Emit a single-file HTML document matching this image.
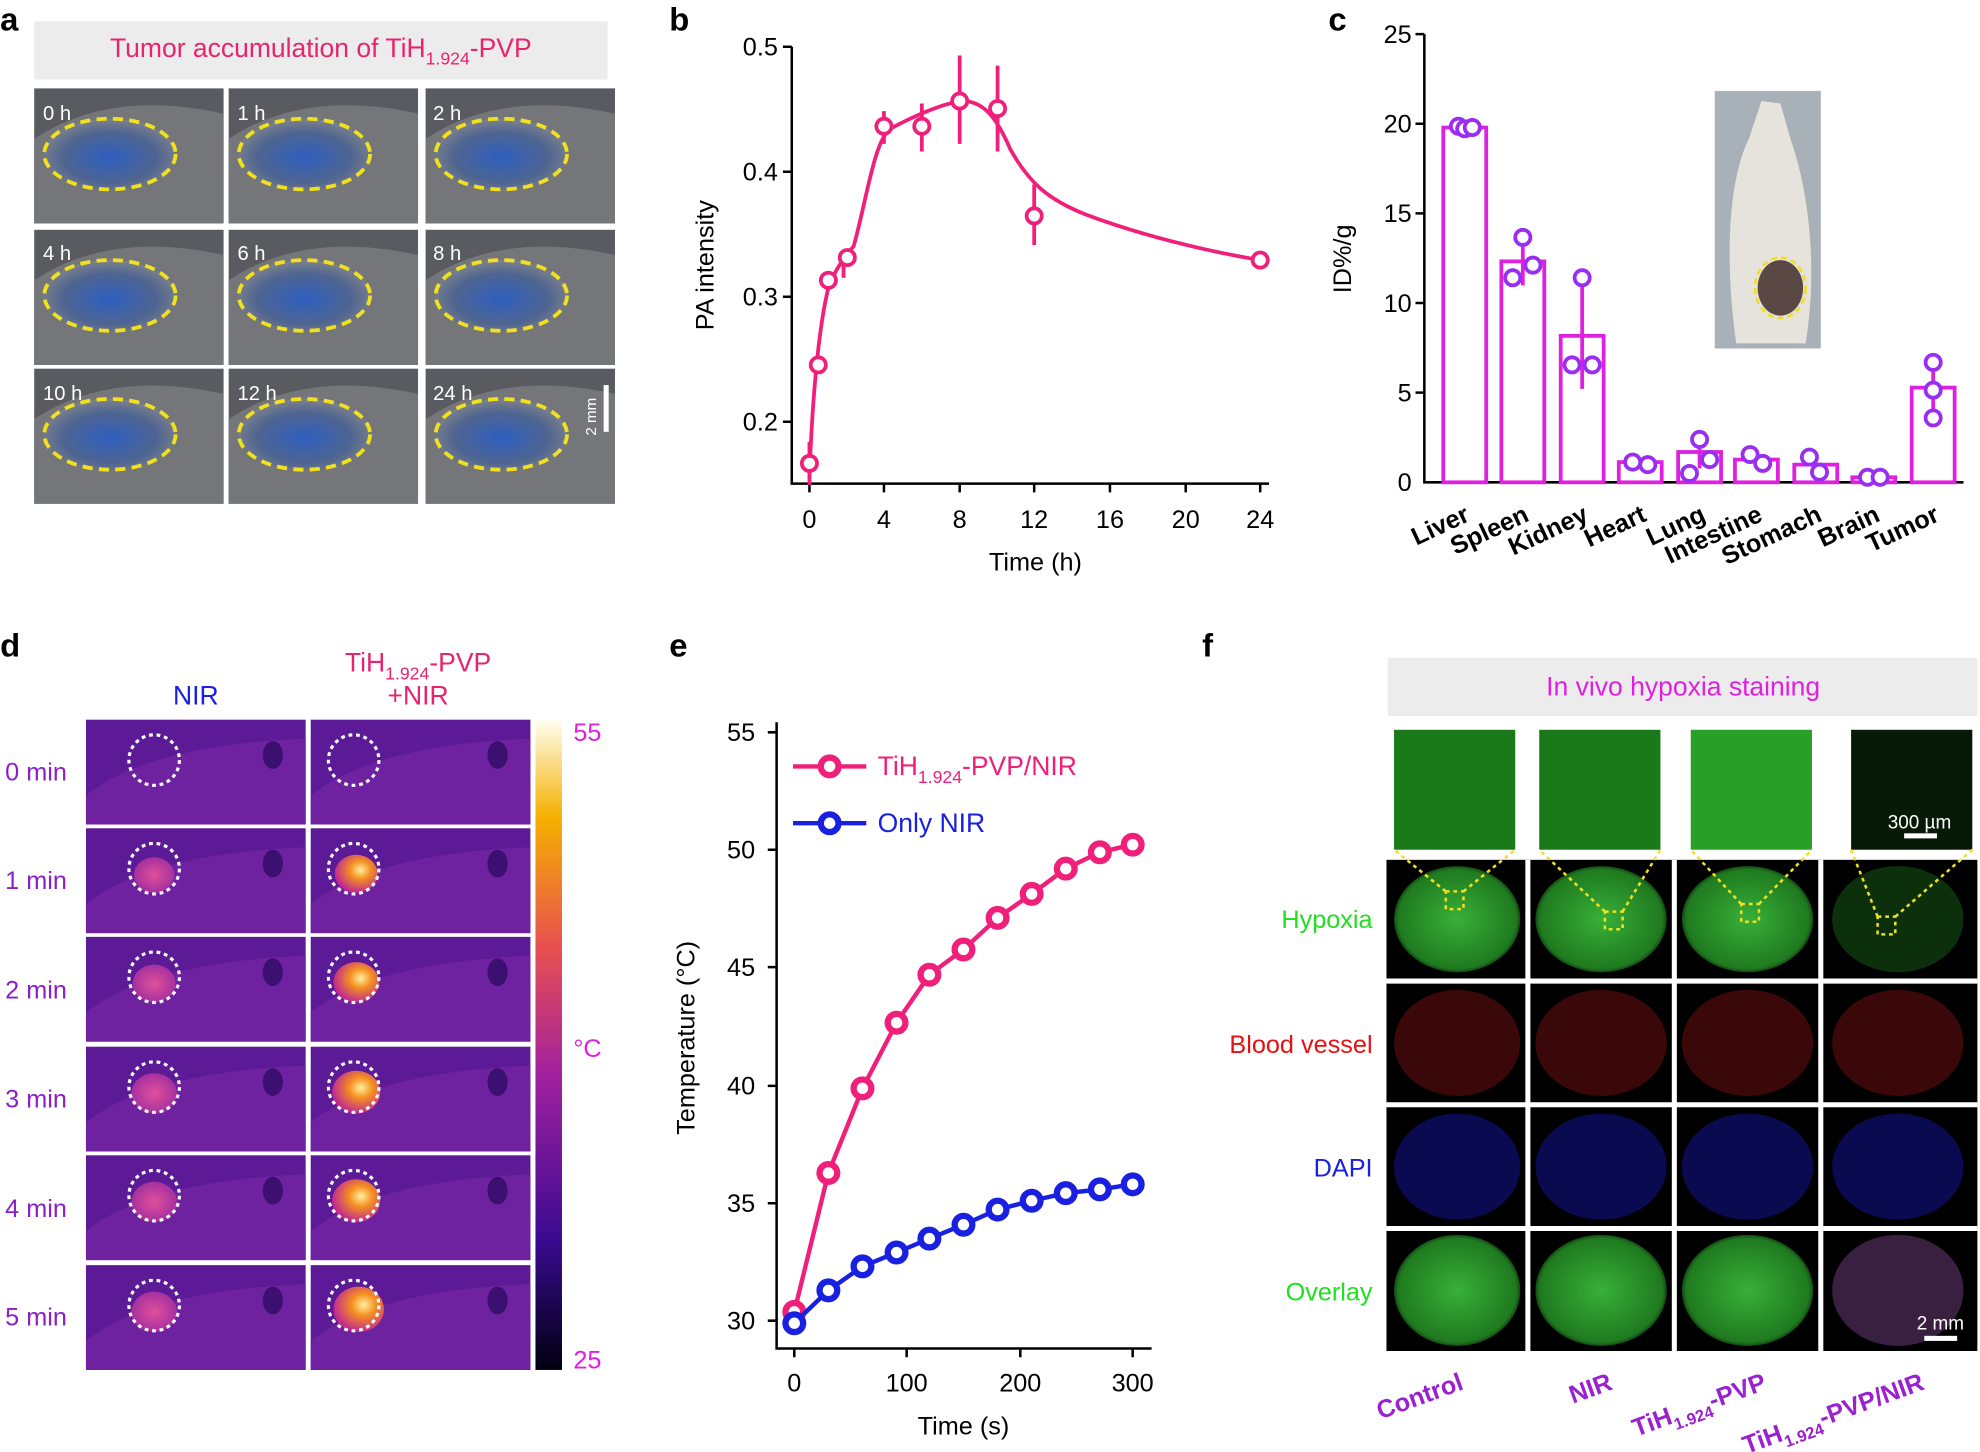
<!DOCTYPE html>
<html><head><meta charset="utf-8"><style>html,body{margin:0;padding:0;background:#fff}svg{display:block}text{font-family:"Liberation Sans",sans-serif}</style></head>
<body>
<svg width="1980" height="1452" viewBox="0 0 1568 1150" xmlns="http://www.w3.org/2000/svg">
<defs>
<radialGradient id="us" cx="50%" cy="55%" r="60%"><stop offset="0" stop-color="#2f5fc0"/><stop offset="0.6" stop-color="#4f6590"/><stop offset="1" stop-color="#8a8a8c"/></radialGradient>
<radialGradient id="hot" cx="60%" cy="40%" r="60%"><stop offset="0" stop-color="#fff0a0"/><stop offset="0.4" stop-color="#f59020"/><stop offset="1" stop-color="#c02a90"/></radialGradient>
<radialGradient id="warm" cx="50%" cy="50%" r="60%"><stop offset="0" stop-color="#e0509a"/><stop offset="1" stop-color="#9a2aa0"/></radialGradient>
<linearGradient id="cb" x1="0" y1="1" x2="0" y2="0"><stop offset="0" stop-color="#000010"/><stop offset="0.2" stop-color="#3a0a90"/><stop offset="0.45" stop-color="#a020a0"/><stop offset="0.65" stop-color="#e85050"/><stop offset="0.85" stop-color="#f5b000"/><stop offset="1" stop-color="#fffff0"/></linearGradient>
<radialGradient id="grn" cx="50%" cy="50%" r="55%"><stop offset="0" stop-color="#38b038"/><stop offset="0.85" stop-color="#1f7a1f"/><stop offset="1" stop-color="#000"/></radialGradient>
<g id="ua"><rect width="150" height="107" fill="#5a5b60"/><path d="M0 40 Q60 0 150 20 L150 107 L0 107Z" fill="#75767a"/><ellipse cx="60" cy="52" rx="52" ry="28" fill="url(#us)"/><ellipse cx="60" cy="52" rx="52" ry="28" fill="none" stroke="#f0e020" stroke-width="3" stroke-dasharray="8,5"/></g>
<g id="dl"><rect width="174" height="83" fill="#5c1a96"/><path d="M0 60 Q50 20 174 15 L174 83 L0 83Z" fill="#6e22a0"/><ellipse cx="148" cy="28" rx="8" ry="11" fill="#3c1070"/></g>
</defs>
<g font-size="26" font-weight="bold">
<text x="0" y="24">a</text><text x="530" y="24">b</text><text x="1052" y="24">c</text>
<text x="0" y="520">d</text><text x="530" y="520">e</text><text x="952" y="520">f</text></g>

<!-- panel a -->
<rect x="27" y="17" width="454" height="46" fill="#ececec"/>
<text x="254" y="45" font-size="21" fill="#e8246e" text-anchor="middle">Tumor accumulation of TiH<tspan font-size="14" dy="6">1.924</tspan><tspan dy="-6">-PVP</tspan></text>
<use href="#ua" x="27" y="70"/><use href="#ua" x="181" y="70"/><use href="#ua" x="337" y="70"/>
<use href="#ua" x="27" y="182"/><use href="#ua" x="181" y="182"/><use href="#ua" x="337" y="182"/>
<use href="#ua" x="27" y="292"/><use href="#ua" x="181" y="292"/><use href="#ua" x="337" y="292"/>
<g font-size="16" fill="#fff"><text x="34" y="95">0 h</text><text x="188" y="95">1 h</text><text x="343" y="95">2 h</text><text x="34" y="206">4 h</text><text x="188" y="206">6 h</text><text x="343" y="206">8 h</text><text x="34" y="317">10 h</text><text x="188" y="317">12 h</text><text x="343" y="317">24 h</text></g>
<rect x="478" y="305" width="4" height="37" fill="#fff"/>
<text x="472" y="330" font-size="12" fill="#fff" transform="rotate(-90 472 330)" text-anchor="middle">2 mm</text>

<!-- panel b -->
<g stroke="#000" stroke-width="2" fill="none"><path d="M627 37 V383 H1005"/>
<path d="M627 37h-7M627 136h-7M627 235h-7M627 334h-7M641 383v7M700 383v7M760 383v7M819 383v7M879 383v7M939 383v7M998 383v7"/></g>
<g font-size="20" text-anchor="end"><text x="616" y="44">0.5</text><text x="616" y="143">0.4</text><text x="616" y="242">0.3</text><text x="616" y="341">0.2</text></g>
<g font-size="20" text-anchor="middle"><text x="641" y="418">0</text><text x="700" y="418">4</text><text x="760" y="418">8</text><text x="819" y="418">12</text><text x="879" y="418">16</text><text x="939" y="418">20</text><text x="998" y="418">24</text><text x="820" y="452">Time (h)</text></g>
<text x="565" y="210" font-size="20" text-anchor="middle" transform="rotate(-90 565 210)">PA intensity</text>
<g stroke="#f0207a" stroke-width="3" fill="none">
<path d="M641 378 C643 320 648 260 656 228 C662 212 668 205 676 195 C686 160 692 112 705 102 C720 94 745 82 762 80 C780 80 790 95 800 118 C815 145 830 158 860 170 C900 185 950 198 998 206"/>
<path d="M641 350v34M700 88v26M730 82v38M760 44v70M790 52v68M819 146v48M998 199v14M668 200v20"/>
<g fill="#fff"><circle cx="641" cy="367" r="6"/><circle cx="648" cy="289" r="6"/><circle cx="656" cy="222" r="6"/><circle cx="671" cy="204" r="6"/><circle cx="700" cy="100" r="6"/><circle cx="730" cy="100" r="6"/><circle cx="760" cy="80" r="6"/><circle cx="790" cy="86" r="6"/><circle cx="819" cy="171" r="6"/><circle cx="998" cy="206" r="6"/></g></g>

<!-- panel c -->
<g stroke="#000" stroke-width="2" fill="none"><path d="M1128 27 V382 H1555"/>
<path d="M1128 27h-7M1128 98h-7M1128 169h-7M1128 240h-7M1128 311h-7"/></g>
<g font-size="20" text-anchor="end"><text x="1118" y="34">25</text><text x="1118" y="105">20</text><text x="1118" y="176">15</text><text x="1118" y="247">10</text><text x="1118" y="318">5</text><text x="1118" y="389">0</text></g>
<text x="1070" y="205" font-size="20" text-anchor="middle" transform="rotate(-90 1070 205)">ID%/g</text>
<g stroke="#e020e0" stroke-width="3" fill="none">
<rect x="1143" y="101" width="34" height="281"/><rect x="1189" y="207" width="34" height="175"/><rect x="1236" y="266" width="34" height="116"/><rect x="1282" y="366" width="34" height="16"/><rect x="1329" y="358" width="34" height="24"/><rect x="1374" y="364" width="34" height="18"/><rect x="1421" y="368" width="34" height="14"/><rect x="1467" y="378" width="34" height="4"/><rect x="1514" y="307" width="34" height="75"/>
<path d="M1206 190v36M1253 222v86M1346 345v26M1531 285v52"/></g>
<g stroke="#9a2ef0" stroke-width="3" fill="#fff">
<circle cx="1155" cy="100" r="6"/><circle cx="1160" cy="102" r="6"/><circle cx="1166" cy="101" r="6"/>
<circle cx="1206" cy="188" r="6"/><circle cx="1198" cy="220" r="6"/><circle cx="1214" cy="210" r="6"/>
<circle cx="1253" cy="220" r="6"/><circle cx="1245" cy="289" r="6"/><circle cx="1261" cy="289" r="6"/>
<circle cx="1293" cy="366" r="6"/><circle cx="1305" cy="368" r="6"/><circle cx="1346" cy="348" r="6"/><circle cx="1338" cy="375" r="6"/><circle cx="1354" cy="364" r="6"/>
<circle cx="1386" cy="360" r="6"/><circle cx="1396" cy="367" r="6"/><circle cx="1433" cy="362" r="6"/><circle cx="1441" cy="374" r="6"/>
<circle cx="1479" cy="378" r="6"/><circle cx="1489" cy="378" r="6"/><circle cx="1531" cy="287" r="6"/><circle cx="1531" cy="309" r="6"/><circle cx="1531" cy="331" r="6"/></g>
<g font-size="20" font-weight="bold" text-anchor="end">
<text x="1165" y="412" transform="rotate(-25 1165 412)">Liver</text><text x="1212" y="412" transform="rotate(-25 1212 412)">Spleen</text><text x="1259" y="412" transform="rotate(-25 1259 412)">Kidney</text><text x="1305" y="412" transform="rotate(-25 1305 412)">Heart</text><text x="1352" y="412" transform="rotate(-25 1352 412)">Lung</text><text x="1397" y="412" transform="rotate(-25 1397 412)">Intestine</text><text x="1444" y="412" transform="rotate(-25 1444 412)">Stomach</text><text x="1490" y="412" transform="rotate(-25 1490 412)">Brain</text><text x="1537" y="412" transform="rotate(-25 1537 412)">Tumor</text></g>
<rect x="1358" y="72" width="84" height="204" fill="#a8b0b8"/>
<path d="M1375 272 C1365 200 1370 140 1385 110 L1395 80 L1410 82 L1418 110 C1432 150 1440 210 1430 272Z" fill="#e6e2dc"/>
<ellipse cx="1410" cy="228" rx="18" ry="22" fill="#5a4844"/>
<ellipse cx="1410" cy="228" rx="20" ry="24" fill="none" stroke="#f0e020" stroke-width="2" stroke-dasharray="5,3"/>

<!-- panel d -->
<text x="155" y="558" font-size="21" fill="#1a20e0" text-anchor="middle">NIR</text>
<text x="331" y="532" font-size="21" fill="#e8246e" text-anchor="middle">TiH<tspan font-size="14" dy="6">1.924</tspan><tspan dy="-6">-PVP</tspan></text>
<text x="331" y="558" font-size="21" fill="#e8246e" text-anchor="middle">+NIR</text>
<g font-size="20" fill="#8a20c8">
<text x="4" y="618">0 min</text><text x="4" y="704">1 min</text><text x="4" y="791">2 min</text><text x="4" y="877">3 min</text><text x="4" y="964">4 min</text><text x="4" y="1050">5 min</text></g>
<use href="#dl" x="68" y="570"/><use href="#dl" x="246" y="570"/>
<use href="#dl" x="68" y="656"/><use href="#dl" x="246" y="656"/>
<use href="#dl" x="68" y="742"/><use href="#dl" x="246" y="742"/>
<use href="#dl" x="68" y="829"/><use href="#dl" x="246" y="829"/>
<use href="#dl" x="68" y="915"/><use href="#dl" x="246" y="915"/>
<use href="#dl" x="68" y="1002"/><use href="#dl" x="246" y="1002"/>
<g fill="url(#warm)"><ellipse cx="122" cy="693" rx="16" ry="14"/><ellipse cx="122" cy="779" rx="17" ry="15"/><ellipse cx="122" cy="866" rx="18" ry="16"/><ellipse cx="122" cy="952" rx="18" ry="16"/><ellipse cx="122" cy="1039" rx="18" ry="16"/></g>
<g fill="url(#hot)"><ellipse cx="282" cy="692" rx="17" ry="15"/><ellipse cx="282" cy="778" rx="18" ry="16"/><ellipse cx="282" cy="865" rx="19" ry="17"/><ellipse cx="282" cy="951" rx="19" ry="17"/><ellipse cx="284" cy="1037" rx="20" ry="18"/></g>
<g fill="none" stroke="#fff" stroke-width="2.5" stroke-dasharray="3,3">
<circle cx="122" cy="602" r="20"/><circle cx="280" cy="602" r="20"/><circle cx="122" cy="688" r="20"/><circle cx="280" cy="688" r="20"/><circle cx="122" cy="774" r="20"/><circle cx="280" cy="774" r="20"/><circle cx="122" cy="861" r="20"/><circle cx="280" cy="861" r="20"/><circle cx="122" cy="947" r="20"/><circle cx="280" cy="947" r="20"/><circle cx="122" cy="1034" r="20"/><circle cx="280" cy="1034" r="20"/></g>
<rect x="424" y="570" width="21" height="515" fill="url(#cb)"/>
<g font-size="20" fill="#e020e0"><text x="454" y="587">55</text><text x="454" y="837">°C</text><text x="454" y="1084">25</text></g>

<!-- panel e -->
<g stroke="#000" stroke-width="2" fill="none"><path d="M615 572 V1068 H912"/>
<path d="M615 580h-7M615 673h-7M615 766h-7M615 860h-7M615 953h-7M615 1046h-7M629 1068v7M718 1068v7M808 1068v7M897 1068v7"/></g>
<g font-size="20" text-anchor="end"><text x="598" y="587">55</text><text x="598" y="680">50</text><text x="598" y="773">45</text><text x="598" y="867">40</text><text x="598" y="960">35</text><text x="598" y="1053">30</text></g>
<g font-size="20" text-anchor="middle"><text x="629" y="1102">0</text><text x="718" y="1102">100</text><text x="808" y="1102">200</text><text x="897" y="1102">300</text><text x="763" y="1136">Time (s)</text></g>
<text x="550" y="822" font-size="20" text-anchor="middle" transform="rotate(-90 550 822)">Temperature (°C)</text>
<g stroke="#f0207a" stroke-width="3.5" fill="none"><polyline points="629,1039 656,929 683,862 710,810 736,772 763,752 790,727 817,708 844,688 871,675 897,669"/>
<path d="M628 607h58"/></g>
<g stroke="#f0207a" stroke-width="5" fill="#fff"><circle cx="629" cy="1039" r="7"/><circle cx="656" cy="929" r="7"/><circle cx="683" cy="862" r="7"/><circle cx="710" cy="810" r="7"/><circle cx="736" cy="772" r="7"/><circle cx="763" cy="752" r="7"/><circle cx="790" cy="727" r="7"/><circle cx="817" cy="708" r="7"/><circle cx="844" cy="688" r="7"/><circle cx="871" cy="675" r="7"/><circle cx="897" cy="669" r="7"/><circle cx="657" cy="607" r="7"/></g>
<g stroke="#1a20e0" stroke-width="3.5" fill="none"><polyline points="629,1048 656,1022 683,1003 710,992 736,981 763,970 790,958 817,951 844,945 871,942 897,938"/><path d="M628 652h58"/></g>
<g stroke="#1a20e0" stroke-width="5" fill="#fff"><circle cx="629" cy="1048" r="7"/><circle cx="656" cy="1022" r="7"/><circle cx="683" cy="1003" r="7"/><circle cx="710" cy="992" r="7"/><circle cx="736" cy="981" r="7"/><circle cx="763" cy="970" r="7"/><circle cx="790" cy="958" r="7"/><circle cx="817" cy="951" r="7"/><circle cx="844" cy="945" r="7"/><circle cx="871" cy="942" r="7"/><circle cx="897" cy="938" r="7"/><circle cx="657" cy="652" r="7"/></g>
<text x="695" y="614" font-size="21" fill="#f0207a">TiH<tspan font-size="14" dy="6">1.924</tspan><tspan dy="-6">-PVP/NIR</tspan></text>
<text x="695" y="659" font-size="21" fill="#1a20e0">Only NIR</text>

<!-- panel f -->
<rect x="1099" y="521" width="467" height="46" fill="#ececec"/>
<text x="1333" y="551" font-size="21" fill="#e020e0" text-anchor="middle">In vivo hypoxia staining</text>
<g fill="#1a7a1a"><rect x="1104" y="578" width="96" height="95"/><rect x="1219" y="578" width="96" height="95"/><rect x="1339" y="578" width="96" height="95" fill="#28a028"/><rect x="1466" y="578" width="96" height="95" fill="#071a07"/></g>
<rect x="1508" y="660" width="26" height="4" fill="#fff"/><text x="1495" y="656" font-size="15" fill="#fff">300 µm</text>
<rect x="1098" y="681" width="468" height="389" fill="#000"/>
<g stroke="#fff" stroke-width="4"><path d="M1210 681v389M1326 681v389M1442 681v389M1098 777h468M1098 875h468M1098 973h468"/></g>
<g fill="url(#grn)"><ellipse cx="1154" cy="728" rx="50" ry="42"/><ellipse cx="1268" cy="728" rx="52" ry="42"/><ellipse cx="1384" cy="728" rx="52" ry="42"/><ellipse cx="1154" cy="1022" rx="50" ry="44"/><ellipse cx="1268" cy="1022" rx="52" ry="44"/><ellipse cx="1384" cy="1022" rx="52" ry="44"/></g>
<ellipse cx="1503" cy="728" rx="52" ry="42" fill="#0c300c"/><ellipse cx="1503" cy="1022" rx="52" ry="44" fill="#3a2040"/>
<g fill="#3a0808"><ellipse cx="1154" cy="826" rx="50" ry="42"/><ellipse cx="1268" cy="826" rx="52" ry="42"/><ellipse cx="1384" cy="826" rx="52" ry="42"/><ellipse cx="1503" cy="826" rx="52" ry="42"/></g>
<g fill="#0a0a50"><ellipse cx="1154" cy="924" rx="50" ry="42"/><ellipse cx="1268" cy="924" rx="52" ry="42"/><ellipse cx="1384" cy="924" rx="52" ry="42"/><ellipse cx="1503" cy="924" rx="52" ry="42"/></g>
<g stroke="#f0e020" stroke-width="2" stroke-dasharray="3,3" fill="none">
<rect x="1145" y="706" width="14" height="14"/><rect x="1271" y="722" width="14" height="14"/><rect x="1379" y="716" width="14" height="14"/><rect x="1487" y="726" width="14" height="14"/>
<path d="M1145 706L1104 673M1159 706L1200 673M1271 722L1219 673M1285 722L1315 673M1379 716L1339 673M1393 716L1435 673M1487 726L1466 673M1501 726L1562 673"/></g>
<rect x="1524" y="1058" width="26" height="4" fill="#fff"/><text x="1518" y="1053" font-size="15" fill="#fff">2 mm</text>
<g font-size="20" text-anchor="end"><text x="1087" y="735" fill="#20e020">Hypoxia</text><text x="1087" y="834" fill="#e81010">Blood vessel</text><text x="1087" y="932" fill="#1a20e0">DAPI</text><text x="1087" y="1030" fill="#20e020">Overlay</text></g>
<g font-size="20" font-weight="bold" fill="#9a20d0" text-anchor="end">
<text x="1160" y="1100" transform="rotate(-20 1160 1100)">Control</text>
<text x="1278" y="1100" transform="rotate(-20 1278 1100)">NIR</text>
<text x="1400" y="1100" transform="rotate(-20 1400 1100)">TiH<tspan font-size="13" dy="6">1.924</tspan><tspan dy="-6">-PVP</tspan></text>
<text x="1525" y="1100" transform="rotate(-20 1525 1100)">TiH<tspan font-size="13" dy="6">1.924</tspan><tspan dy="-6">-PVP/NIR</tspan></text></g>
</svg>
</body></html>
